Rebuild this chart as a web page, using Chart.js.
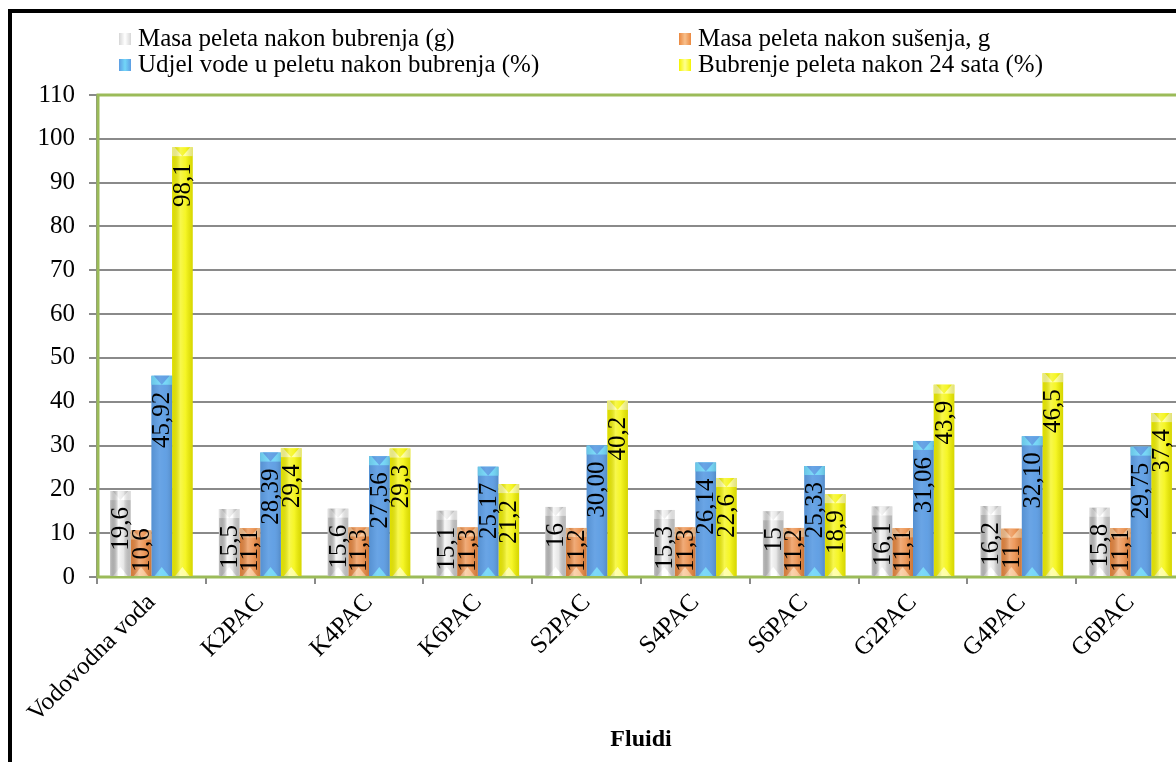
<!DOCTYPE html>
<html lang="hr">
<head>
<meta charset="UTF-8" />
<title>Fluidi - bubrenje peleta</title>
<script src="https://cdn.jsdelivr.net/npm/chart.js"></script>
<style>
  html, body { margin: 0; padding: 0; background: #fff; overflow: hidden; width: 1176px; height: 762px; }
  #wrap { position: absolute; left: 0; top: 0; width: 1200px; height: 762px; }
  #frame { position: absolute; left: 8px; top: 9px; width: 1300px; height: 900px;
           border-top: 4px solid #000; border-left: 4px solid #000; pointer-events: none; }
  .leg { position: absolute; font-family: "Liberation Serif", "Times New Roman", serif;
         font-size: 25px; color: #000; white-space: nowrap; line-height: 26px; }
  .leg i { display: inline-block; width: 12px; height: 12px; margin-right: 7px; vertical-align: 1px; }
</style>
</head>
<body>
  <div id="wrap"><canvas id="chart" width="1200" height="762"></canvas></div>
  <div id="legend"></div>
  <div id="frame"></div>

  <script>
    const categories = ["Vodovodna voda", "K2PAC", "K4PAC", "K6PAC", "S2PAC", "S4PAC", "S6PAC", "G2PAC", "G4PAC", "G6PAC"];
    const masaNakonBubrenja = [19.6, 15.5, 15.6, 15.1, 16, 15.3, 15, 16.1, 16.2, 15.8];
    const masaNakonSusenja = [10.6, 11.1, 11.3, 11.3, 11.2, 11.3, 11.2, 11.1, 11, 11.1];
    const udjelVode = [45.92, 28.39, 27.56, 25.17, 30.00, 26.14, 25.33, 31.06, 32.10, 29.75];
    const bubrenje24h = [98.1, 29.4, 29.3, 21.2, 40.2, 22.6, 18.9, 43.9, 46.5, 37.4];

    const seriesNames = ["Masa peleta nakon bubrenja (g)", "Masa peleta nakon sušenja, g",
                         "Udjel vode u peletu nakon bubrenja (%)", "Bubrenje peleta nakon 24 sata (%)"];
    const seriesData = [masaNakonBubrenja, masaNakonSusenja, udjelVode, bubrenje24h];
    const seriesDecimals = [null, null, 2, null];
    // base colour, light bevel colour, centre highlight strength
    const seriesColors = ["#d6d6d6", "#ea8840", "#5d9de3", "#f4f400"];
    const bevelColors = ["#ffffff", "#f8c08c", "#72d6f8", "#ffff90"];
    const highlight = [0.8, 0.3, 0.08, 0.3];

    const FONT = '"Liberation Serif", "Times New Roman", serif';

    // legend, two columns like the original
    const legendPos = [[119, 25], [679, 25], [119, 51], [679, 51]];
    document.getElementById("legend").innerHTML = seriesNames.map((name, i) =>
      `<div class="leg" style="left:${legendPos[i][0]}px;top:${legendPos[i][1]}px">` +
      `<i style="background:linear-gradient(90deg, ${seriesColors[i]}, ${bevelColors[i]}, ${seriesColors[i]})"></i>${name}</div>`
    ).join("");

    function fmt(v, dec) {
      const s = dec == null ? String(v) : v.toFixed(dec);
      return s.replace(".", ",");
    }

    const frameBars = {
      id: "frameBars",
      beforeDatasetsDraw(chart) {
        const { ctx, chartArea: a } = chart;
        ctx.save();
        ctx.strokeStyle = "#9bbb59";
        ctx.lineWidth = 3;
        ctx.strokeRect(a.left + 1, a.top, a.right - a.left, a.bottom - a.top);
        ctx.restore();
      },
      afterDatasetsDraw(chart) {
        const { ctx } = chart;
        chart.data.datasets.forEach((ds, di) => {
          const meta = chart.getDatasetMeta(di);
          meta.data.forEach(bar => {
            const { x, y, base, width } = bar.getProps(["x", "y", "base", "width"], true);
            const l = x - width / 2, r = x + width / 2;
            const bh = Math.min(9, (base - y) / 3);
            ctx.save();
            // top bevel: light corners with a V of the base colour
            ctx.fillStyle = bevelColors[di];
            ctx.fillRect(l, y, width, bh);
            ctx.fillStyle = seriesColors[di];
            ctx.beginPath();
            ctx.moveTo(l + width * 0.12, y); ctx.lineTo(r - width * 0.12, y); ctx.lineTo(x, y + bh);
            ctx.closePath(); ctx.fill();
            // bottom bevel: light triangle
            ctx.fillStyle = bevelColors[di];
            ctx.beginPath();
            ctx.moveTo(l + width * 0.15, base); ctx.lineTo(r - width * 0.15, base); ctx.lineTo(x, base - bh);
            ctx.closePath(); ctx.fill();
            // rounded shading
            const g = ctx.createLinearGradient(l, 0, r, 0);
            g.addColorStop(0, "rgba(0,0,0,0.08)");
            g.addColorStop(0.4, `rgba(255,255,255,${highlight[di]})`);
            g.addColorStop(0.65, `rgba(255,255,255,${highlight[di] * 0.5})`);
            g.addColorStop(1, "rgba(0,0,0,0.12)");
            ctx.fillStyle = g;
            ctx.fillRect(l, y, width, base - y);
            ctx.restore();
          });
        });
        // value labels, rotated, inside end
        ctx.save();
        ctx.font = `25px ${FONT}`;
        ctx.fillStyle = "#000";
        ctx.textAlign = "right";
        ctx.textBaseline = "middle";
        chart.data.datasets.forEach((ds, di) => {
          const meta = chart.getDatasetMeta(di);
          meta.data.forEach((bar, i) => {
            const { x, y, base } = bar.getProps(["x", "y", "base"], true);
            const txt = fmt(ds.data[i], seriesDecimals[di]);
            const len = ctx.measureText(txt).width;
            let top = y + 16;
            if (top + len > base - 4) top = base - 4 - len;
            ctx.save();
            ctx.translate(x + 1, top);
            ctx.rotate(-Math.PI / 2);
            ctx.fillText(txt, 0, 0);
            ctx.restore();
          });
        });
        ctx.restore();
      }
    };

    new Chart(document.getElementById("chart"), {
      type: "bar",
      data: {
        labels: categories,
        datasets: seriesNames.map((name, i) => ({
          label: name,
          data: seriesData[i],
          backgroundColor: seriesColors[i],
          borderWidth: 0,
          categoryPercentage: 0.76,
          barPercentage: 1.0
        }))
      },
      options: {
        responsive: false,
        animation: false,
        events: [],
        layout: { padding: { top: 95, right: 15, left: 0, bottom: 0 } },
        plugins: { legend: { display: false }, tooltip: { enabled: false } },
        scales: {
          y: {
            min: 0,
            max: 110,
            ticks: { stepSize: 10, color: "#000", padding: 14, font: { family: FONT, size: 25 } },
            grid: {
              color: ctx => (ctx.tick && (ctx.tick.value === 0 || ctx.tick.value === 110)) ? "rgba(0,0,0,0)" : "#8a8a8a",
              lineWidth: 2,
              tickLength: 8,
              tickColor: "#8a8a8a"
            },
            border: { display: true, color: "#8a8a8a", width: 2 },
            afterFit(scale) { scale.width = 97; }
          },
          x: {
            ticks: {
              autoSkip: false, maxRotation: 45, minRotation: 45, color: "#000",
              padding: 4, font: { family: FONT, size: 25 }
            },
            grid: { drawOnChartArea: false, drawTicks: true, tickLength: 7, color: "#8a8a8a", lineWidth: 2 },
            border: { display: true, color: "#8a8a8a", width: 2 },
            title: {
              display: true, text: "Fluidi", color: "#000",
              font: { family: FONT, size: 24, weight: "bold" },
              padding: { top: 0, bottom: 8 }
            },
            afterFit(scale) { scale.height = 185; }
          }
        }
      },
      plugins: [frameBars]
    });
  </script>
</body>
</html>
